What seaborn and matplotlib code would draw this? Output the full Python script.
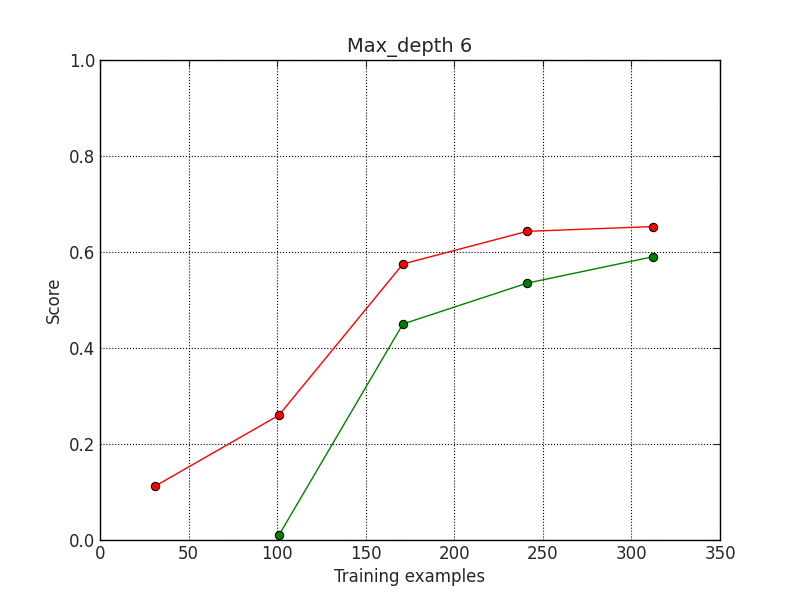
import matplotlib
matplotlib.use("Agg")
import matplotlib.pyplot as plt
import seaborn as sns
import pandas as pd

train_sizes = [31, 101, 171, 241, 312]
train_scores = [0.112, 0.260, 0.575, 0.643, 0.653]
test_sizes = [101, 171, 241, 312]
test_scores = [0.010, 0.450, 0.535, 0.590]

sns.set_style("white")
plt.rcParams["font.family"] = ["DejaVu Sans"]

fig, ax = plt.subplots(figsize=(8, 6), dpi=100)
fig.subplots_adjust(left=0.125, right=0.9, bottom=0.1, top=0.9)

train_df = pd.DataFrame({"x": train_sizes, "y": train_scores})
test_df = pd.DataFrame({"x": test_sizes, "y": test_scores})
sns.lineplot(data=train_df, x="x", y="y", ax=ax, color="red", marker="o",
             markersize=6, markerfacecolor="red", markeredgecolor="black", linewidth=1)
sns.lineplot(data=test_df, x="x", y="y", ax=ax, color="green", marker="o",
             markersize=6, markerfacecolor="green", markeredgecolor="black", linewidth=1)

ax.set_xlim(0, 350)
ax.set_ylim(0, 1.0)
ax.set_xticks(range(0, 351, 50))
ax.set_yticks([0.0, 0.2, 0.4, 0.6, 0.8, 1.0])
ax.grid(True, color="black", linestyle=":", linewidth=0.8)
ax.tick_params(direction="in", top=True, right=True, labelsize=12, length=5)
for s in ax.spines.values():
    s.set_color("black")
    s.set_linewidth(1)
ax.set_title("Max_depth 6", fontsize=14)
ax.set_xlabel("Training examples", fontsize=12)
ax.set_ylabel("Score", fontsize=12)

fig.savefig("out.png", dpi=100)
